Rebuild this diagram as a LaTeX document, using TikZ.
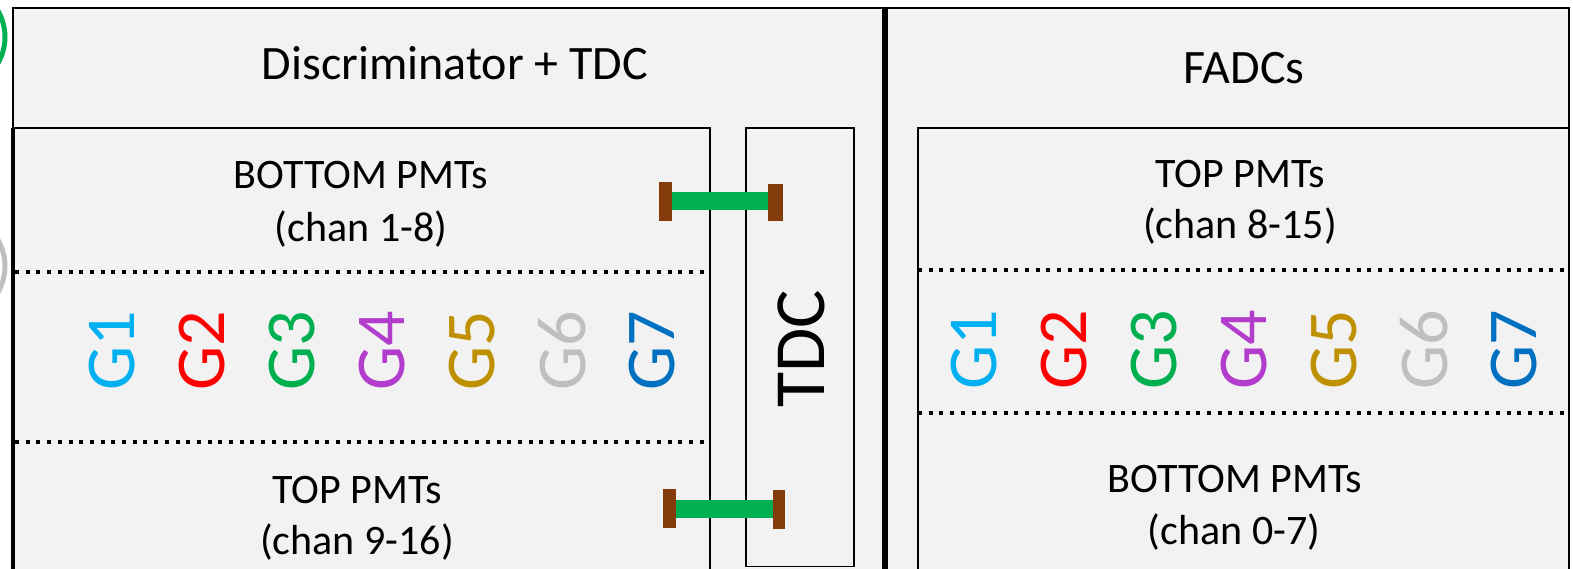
\documentclass[tikz,border=0pt]{standalone}
\usepackage{fontspec}
\setmainfont{Carlito}
\usepackage{tikz}
\usetikzlibrary{positioning}
\definecolor{panelgray}{HTML}{F2F2F2}
\definecolor{gcyan}{HTML}{00B0F0}
\definecolor{gred}{HTML}{FF0000}
\definecolor{ggreen}{HTML}{00B050}
\definecolor{gpurple}{RGB}{178,60,204}
\definecolor{ggold}{HTML}{BF9000}
\definecolor{ggray}{HTML}{BFBFBF}
\definecolor{gblue}{HTML}{0070C0}
\definecolor{plugbrown}{HTML}{843C0C}

\begin{document}
\begin{tikzpicture}[x=1pt, y=-1pt,
  header/.style={font=\fontsize{48}{56}\selectfont, anchor=base, inner sep=0pt},
  pmtlabel/.style={font=\fontsize{42}{48}\selectfont, anchor=base, inner sep=0pt},
  glabel/.style={font=\fontsize{70}{80}\selectfont, rotate=90, inner sep=0pt},
  plug/.style={fill=plugbrown, minimum width=13pt, minimum height=39pt, inner sep=0pt},
  cable/.style={draw=ggreen, line width=18pt},
  chansep/.style={line width=4pt, dash pattern=on 4pt off 6.7pt}]
  \useasboundingbox (0,0) rectangle (1573,568);
  % cut-off rings at the left edge
  \draw[ggreen, line width=5pt] (-47,37) circle (52pt);
  \draw[ggray, line width=5pt] (-47,266) circle (52pt);
  % crate outline
  \fill[panelgray] (13,8) rectangle (1569,590);
  \draw[line width=1.5pt] (13,590) -- (13,8) -- (1569,8) -- (1569,590);
  % discriminator side
  \draw[line width=1.5pt] (13,590) -- (13,128) -- (710,128) -- (710,590);
  \draw[line width=4pt] (13,128) -- (13,590);
  \draw[line width=1.5pt] (746,128) rectangle (854,566.5);
  \draw[chansep] (15,271.5) -- (710,271.5);
  \draw[chansep] (15,441.5) -- (710,441.5);
  % FADC side
  \draw[line width=1.5pt] (918,590) -- (918,128) -- (1569,128);
  \draw[chansep] (918,270) -- (1569,270);
  \draw[chansep] (918,413) -- (1569,413);
  \draw[line width=6pt] (885,7) -- (885,590);
  % titles
  \node[header] (disc) at (455,79) {Discriminator + TDC};
  \node[header] (fadc) at (1244,83) {FADCs};
  \node[font=\fontsize{72}{80}\selectfont, rotate=90, inner sep=0pt] (tdc) at (801,349) {TDC};
  % channel groups
  \node[pmtlabel] (botL) at (361,188) {BOTTOM PMTs};
  \node[pmtlabel] (botLch) at (361,241) {(chan 1-8)};
  \node[pmtlabel] (topL) at (357,503) {TOP PMTs};
  \node[pmtlabel] (topLch) at (357,554) {(chan 9-16)};
  \node[pmtlabel] (topR) at (1240,187) {TOP PMTs};
  \node[pmtlabel] (topRch) at (1240,238) {(chan 8-15)};
  \node[pmtlabel] (botR) at (1235,492) {BOTTOM PMTs};
  \node[pmtlabel] (botRch) at (1234,544) {(chan 0-7)};
  \foreach \g/\c [count=\i from 0] in {1/gcyan,2/gred,3/ggreen,4/gpurple,5/ggold,6/ggray,7/gblue} {
    \node[glabel, text=\c] (gl\g) at (112+90*\i,351) {G\g};
    \node[glabel, text=\c] (gr\g) at (974+90*\i,350) {G\g};
  }
  % cables into the TDC
  \node[plug] (plugA) at (665,201) {};
  \node[plug, minimum width=15pt, minimum height=37pt] (plugB) at (775.5,202) {};
  \draw[cable] (plugA.east) -- (plugB.west |- plugA.east);
  \node[plug] (plugC) at (669,508.5) {};
  \node[plug, minimum width=12pt] (plugD) at (779,509) {};
  \draw[cable] (plugC.east) -- (plugD.west |- plugC.east);
\end{tikzpicture}
\end{document}
